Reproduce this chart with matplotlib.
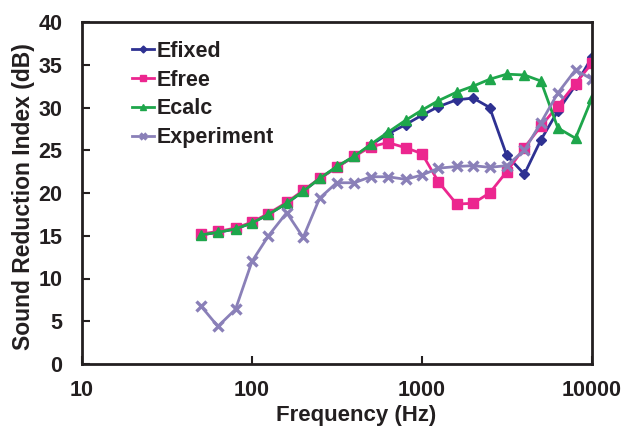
import numpy as np
import matplotlib
matplotlib.use("Agg")
import matplotlib.pyplot as plt

plt.rcParams['font.family'] = ['Liberation Sans', 'DejaVu Sans']
plt.rcParams['font.weight'] = 'bold'

freq = [50, 63, 80, 100, 125, 160, 200, 250, 315, 400, 500, 630, 800, 1000,
        1250, 1600, 2000, 2500, 3150, 4000, 5000, 6300, 8000, 10000]

efixed = [15.1, 15.4, 15.8, 16.5, 17.5, 18.8, 20.2, 21.7, 23.0, 24.3, 25.6, 26.9, 28.0, 29.1,
          30.1, 30.9, 31.1, 30.0, 24.4, 22.2, 26.2, 29.6, 32.6, 35.9]
efree = [15.2, 15.5, 15.9, 16.6, 17.6, 18.9, 20.3, 21.7, 23.0, 24.3, 25.4, 25.9, 25.3, 24.6,
         21.3, 18.7, 18.8, 20.0, 22.5, 25.3, 27.8, 30.2, 32.8, 35.2]
ecalc = [15.1, 15.4, 15.8, 16.5, 17.5, 18.8, 20.2, 21.7, 23.1, 24.3, 25.7, 27.1, 28.5, 29.7,
         30.8, 31.8, 32.5, 33.3, 33.9, 33.8, 33.1, 27.6, 26.4, 31.1]
experiment = [6.8, 4.4, 6.4, 12.0, 15.0, 17.7, 14.8, 19.4, 21.2, 21.2, 21.9, 21.9, 21.6, 22.1,
              22.9, 23.1, 23.2, 23.0, 23.2, 25.0, 28.2, 31.7, 34.4, 33.3]

fig = plt.figure(figsize=(6.25, 4.28), dpi=100)
ax = fig.add_axes([82/625, 1-364/428, (592-82)/625, (364-22)/428])

ax.plot(freq, efixed, color="#2e3192", marker="D", ms=5, lw=2, label="Efixed")
ax.plot(freq, efree, color="#ec268f", marker="s", ms=6.5, lw=2, label="Efree")
ax.plot(freq, ecalc, color="#1ea64b", marker="^", ms=7, lw=2, label="Ecalc")
ax.plot(freq, experiment, color="#8a80b8", marker="x", ms=7, mew=2.4, lw=2, label="Experiment")

ax.set_xscale("log")
ax.set_xlim(10, 10000)
ax.set_ylim(0, 40)
ax.set_xticks([10, 100, 1000, 10000])
ax.set_xticklabels(["10", "100", "1000", "10000"])
ax.xaxis.set_minor_locator(matplotlib.ticker.NullLocator())
ax.set_yticks(np.arange(0, 41, 5))
ax.tick_params(axis="both", direction="in", length=6, width=1.5, labelsize=15.5,
               colors="#231f20")
ax.tick_params(axis="x", pad=11.5)
ax.tick_params(axis="y", pad=14)
for s in ax.spines.values():
    s.set_linewidth(2)
    s.set_color("#231f20")

ax.set_xlabel("Frequency (Hz)", fontsize=16, fontweight="bold", color="#231f20")
ax.xaxis.set_label_coords(0.537, -0.12)
ax.set_ylabel("Sound Reduction Index (dB)", fontsize=16.5, fontweight="bold", color="#231f20")
ax.yaxis.set_label_coords(-0.092, 0.49)

leg = ax.legend(loc="upper left", bbox_to_anchor=(0.098, 0.945), frameon=False,
                fontsize=15.5, handlelength=1.0, labelspacing=0.36, handletextpad=0.15,
                borderaxespad=0, borderpad=0, markerscale=0.7)
for t in leg.get_texts():
    t.set_color("#231f20")

fig.savefig("out.png", dpi=100)
